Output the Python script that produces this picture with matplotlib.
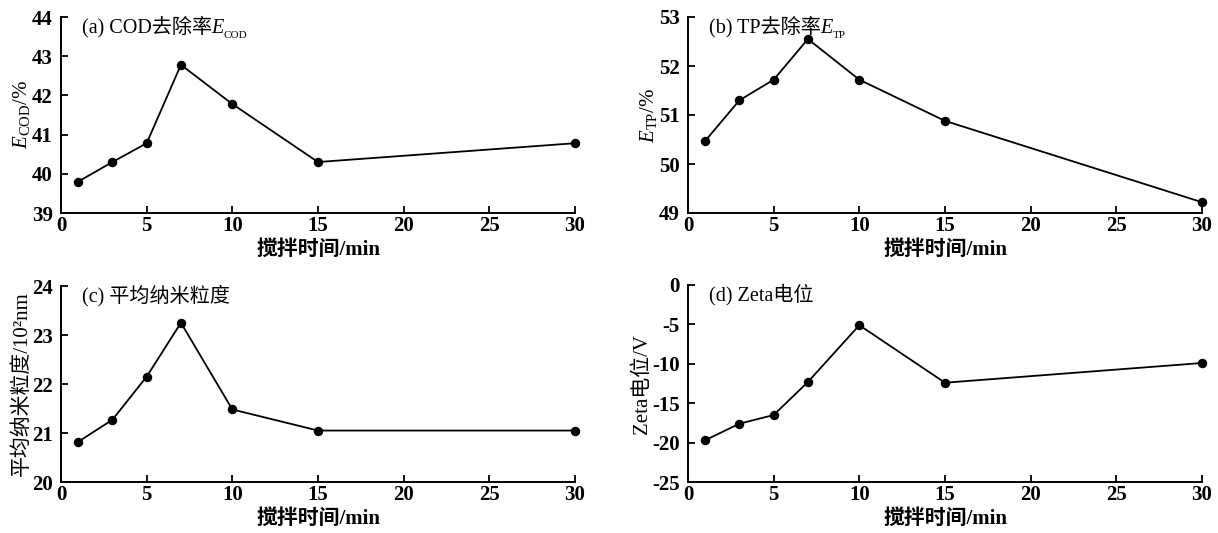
import matplotlib
matplotlib.use('Agg')
import matplotlib.pyplot as plt

plt.rcParams['font.family'] = ['Liberation Serif', 'Noto Sans CJK SC']
plt.rcParams['mathtext.fontset'] = 'custom'
plt.rcParams['mathtext.rm'] = 'Liberation Serif'
plt.rcParams['mathtext.it'] = 'Liberation Serif:italic'
plt.rcParams['axes.unicode_minus'] = False

# stirring time (min)
time_min = [1, 3, 5, 7, 10, 15, 30]
cod_removal = [39.8, 40.3, 40.78, 42.78, 41.78, 40.3, 40.78]
tp_removal = [50.47, 51.3, 51.72, 52.55, 51.72, 50.88, 49.22]
nano_size = [20.82, 21.27, 22.15, 23.25, 21.48, 21.05, 21.05]
zeta = [-19.7, -17.6, -16.5, -12.3, -5.1, -12.4, -9.9]

xticks = [0, 5, 10, 15, 20, 25, 30]
xlabel = '搅拌时间/min'

fig = plt.figure(figsize=(12.18, 5.33), dpi=100)
W, H = 1218, 533
def box(l, t, r, b):
    return [l / W, 1 - b / H, (r - l) / W, (b - t) / H]

ax_a = fig.add_axes(box(61, 17, 575, 213))
ax_b = fig.add_axes(box(688, 17, 1202, 213))
ax_c = fig.add_axes(box(61, 286, 575, 482))
ax_d = fig.add_axes(box(688, 285, 1202, 482))

panels = [
    (ax_a, cod_removal, (39, 44), [39, 40, 41, 42, 43, 44], r'$E_{\mathrm{COD}}$/%', '(a) COD去除率', 'COD'),
    (ax_b, tp_removal, (49, 53), [49, 50, 51, 52, 53], r'$E_{\mathrm{TP}}$/%', '(b) TP去除率', 'TP'),
    (ax_c, nano_size, (20, 24), [20, 21, 22, 23, 24], '平均纳米粒度/10²nm', '(c) 平均纳米粒度', None),
    (ax_d, zeta, (-25, 0), [-25, -20, -15, -10, -5, 0], 'Zeta电位/V', '(d) Zeta电位', None),
]

for ax, vals, ylim, yticks, ylab, title, sub in panels:
    ax.plot(time_min, vals, color='black', lw=1.3, marker='o', ms=5.8,
            clip_on=False, zorder=3)
    ax.set_xlim(0, 30)
    ax.set_ylim(*ylim)
    ax.set_xticks(xticks)
    ax.set_yticks(yticks)
    for s in ['top', 'right']:
        ax.spines[s].set_visible(False)
    for s in ['left', 'bottom']:
        ax.spines[s].set_linewidth(1.4)
    ax.tick_params(direction='in', length=5, width=1.3, labelsize=15)
    ax.tick_params(axis='x', pad=2)
    ax.tick_params(axis='y', pad=6)
    for lb in ax.get_xticklabels() + ax.get_yticklabels():
        lb.set_fontweight('bold')
    ax.set_xlabel(xlabel, fontsize=15, fontweight='bold', labelpad=3)
    ax.set_ylabel(ylab, fontsize=15, labelpad=0)
    t = ax.text(0.04, 0.95, title, transform=ax.transAxes, fontsize=14.5,
                ha='left', va='center')
    if sub:
        e = ax.annotate('E', xy=(1, 0), xycoords=t, fontsize=14.5,
                        fontstyle='italic', ha='left', va='bottom')
        ax.annotate(sub, xy=(1, 0), xycoords=e, fontsize=8,
                    ha='left', va='bottom', xytext=(0, -2),
                    textcoords='offset points')

fig.savefig('out.png', dpi=100)
